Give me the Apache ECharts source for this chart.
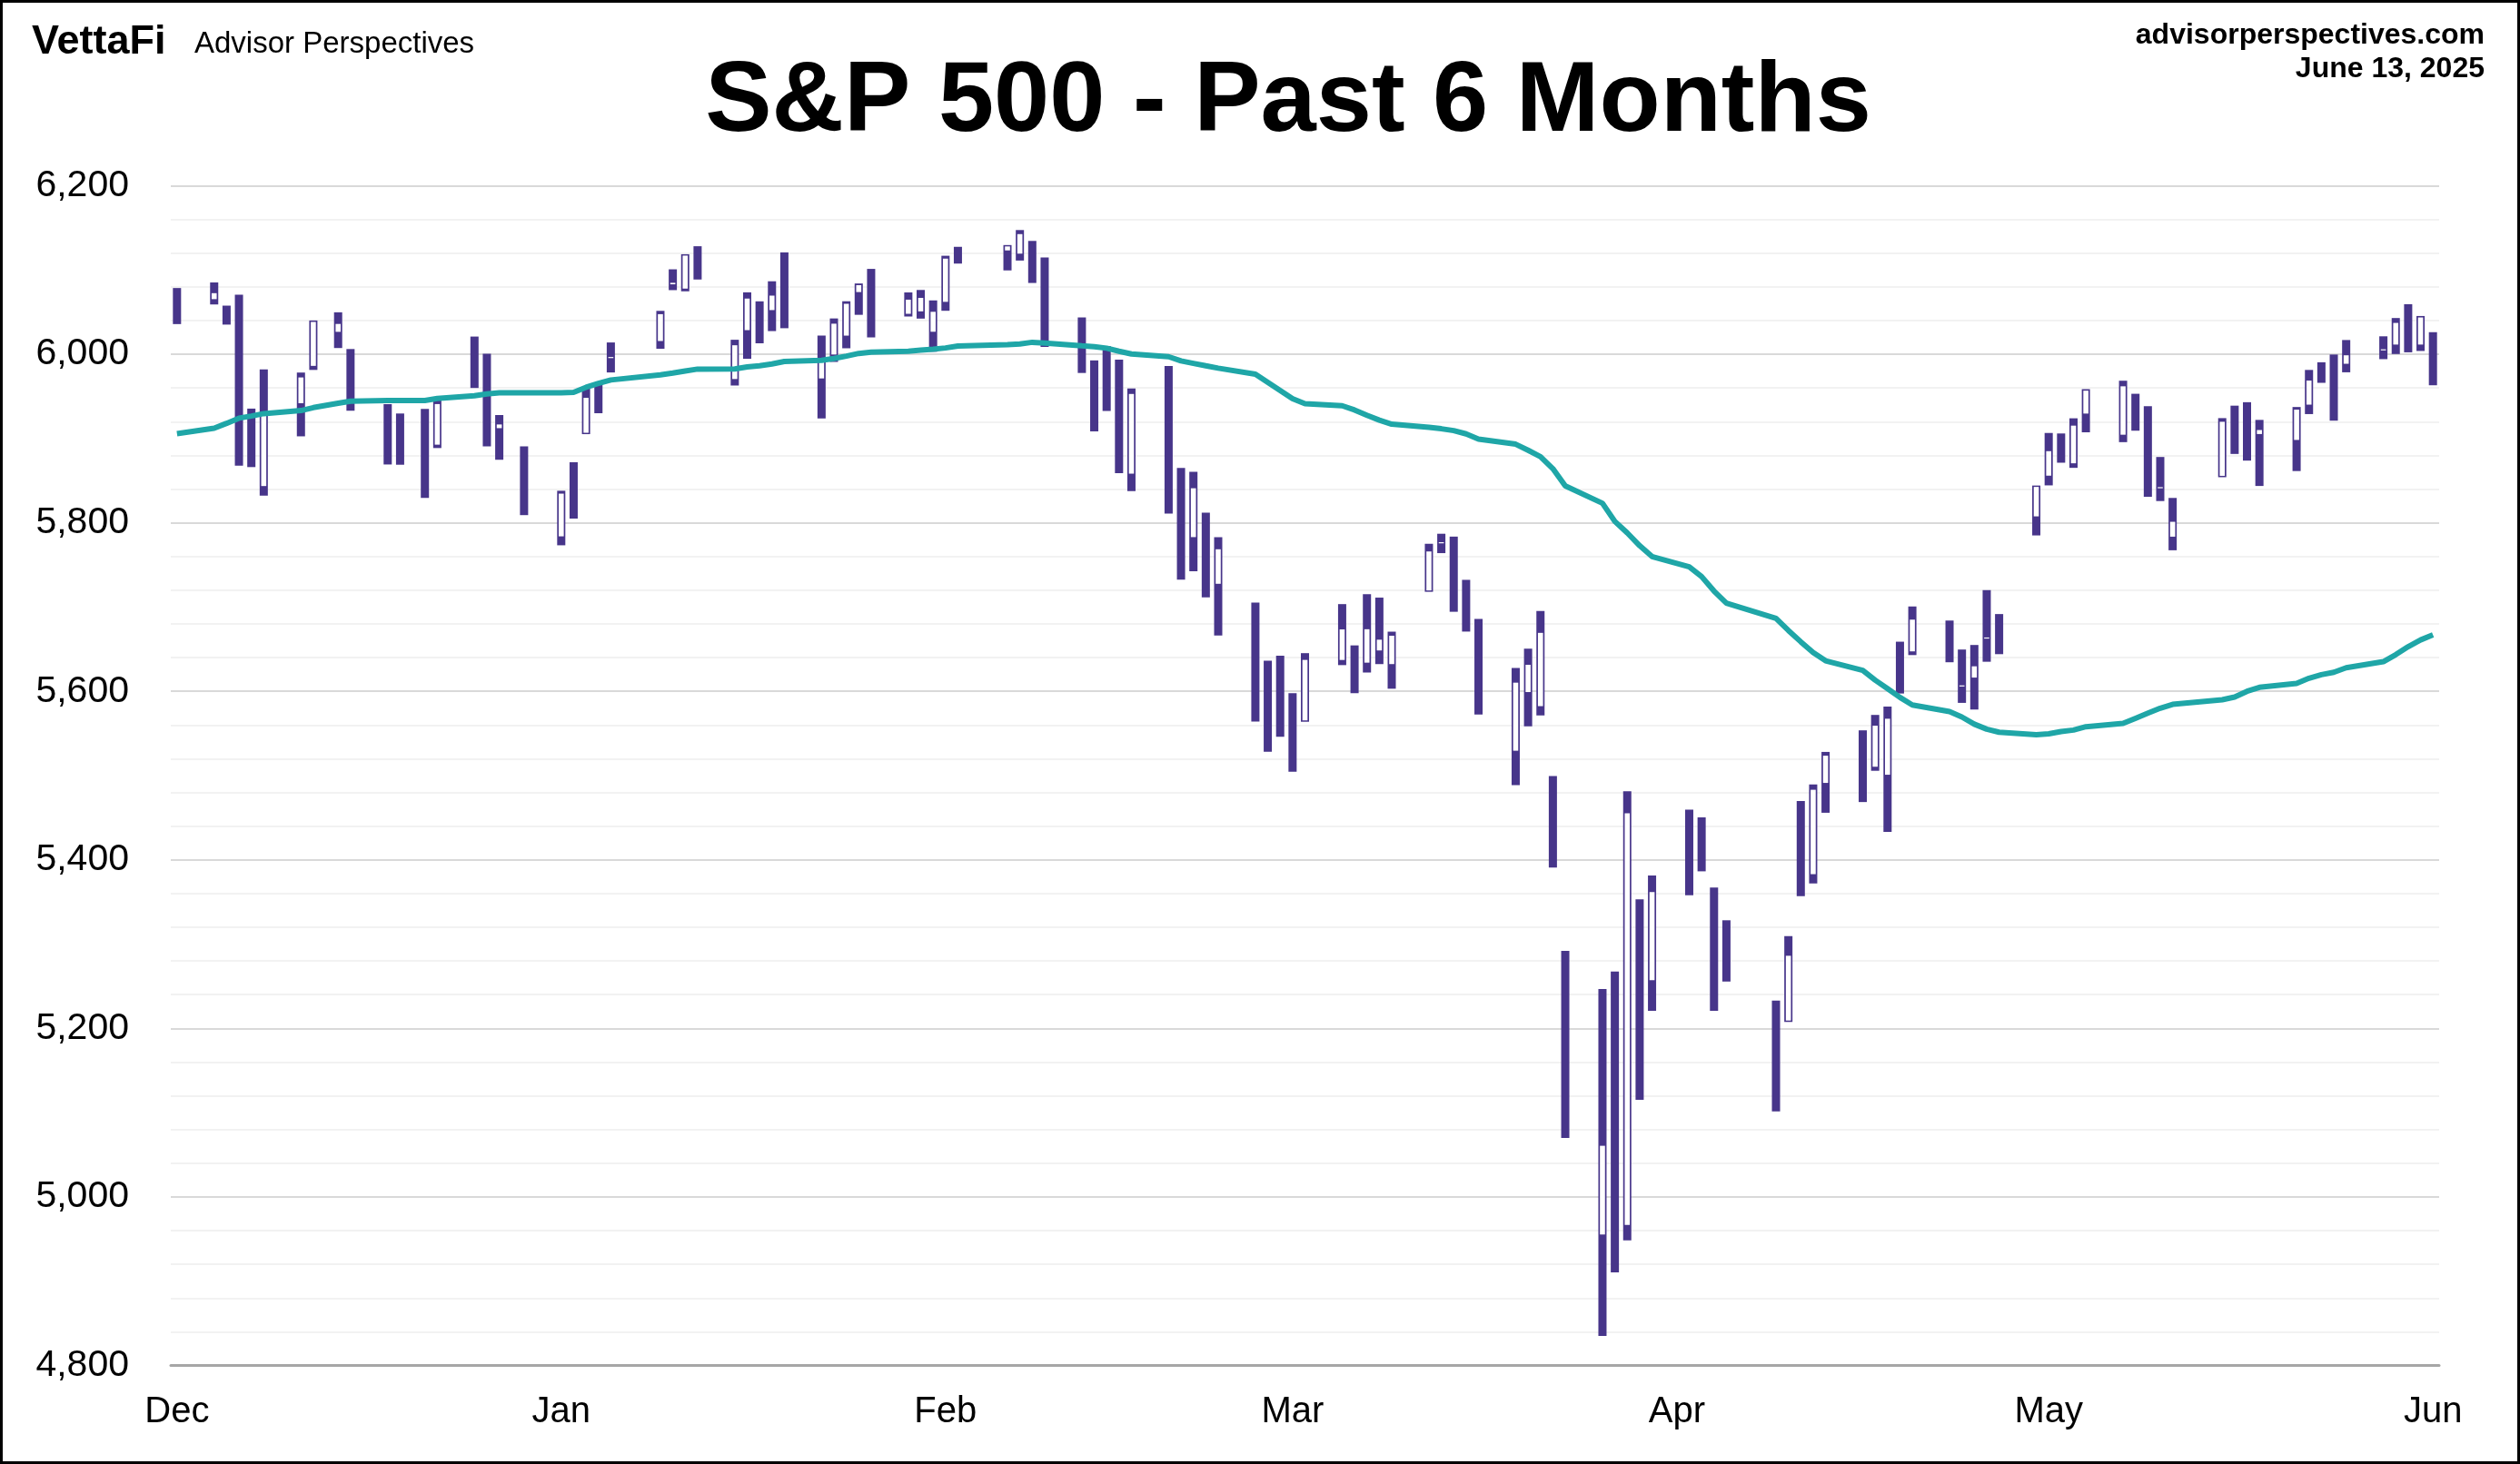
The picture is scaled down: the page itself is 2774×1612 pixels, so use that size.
<!DOCTYPE html>
<html>
<head>
<meta charset="utf-8">
<title>S&amp;P 500 - Past 6 Months</title>
<script src="https://cdn.jsdelivr.net/npm/echarts@6/dist/echarts.min.js"></script>
<style>
  html, body { margin: 0; padding: 0; background: #fff; }
  #chart { width: 2774px; height: 1612px; }
</style>
</head>
<body>
<div id="chart"></div>
<script>
  // trading days, Dec 13 2024 -> Jun 13 2025
  var tradeDates = [
    '2024-12-13','2024-12-16','2024-12-17','2024-12-18','2024-12-19','2024-12-20','2024-12-23','2024-12-24','2024-12-26','2024-12-27','2024-12-30','2024-12-31',
    '2025-01-02','2025-01-03','2025-01-06','2025-01-07','2025-01-08','2025-01-10','2025-01-13','2025-01-14','2025-01-15','2025-01-16','2025-01-17','2025-01-21','2025-01-22','2025-01-23','2025-01-24','2025-01-27','2025-01-28','2025-01-29','2025-01-30','2025-01-31',
    '2025-02-03','2025-02-04','2025-02-05','2025-02-06','2025-02-07','2025-02-10','2025-02-11','2025-02-12','2025-02-13','2025-02-14','2025-02-18','2025-02-19','2025-02-20','2025-02-21','2025-02-24','2025-02-25','2025-02-26','2025-02-27','2025-02-28',
    '2025-03-03','2025-03-04','2025-03-05','2025-03-06','2025-03-07','2025-03-10','2025-03-11','2025-03-12','2025-03-13','2025-03-14','2025-03-17','2025-03-18','2025-03-19','2025-03-20','2025-03-21','2025-03-24','2025-03-25','2025-03-26','2025-03-27','2025-03-28','2025-03-31',
    '2025-04-01','2025-04-02','2025-04-03','2025-04-04','2025-04-07','2025-04-08','2025-04-09','2025-04-10','2025-04-11','2025-04-14','2025-04-15','2025-04-16','2025-04-17','2025-04-21','2025-04-22','2025-04-23','2025-04-24','2025-04-25','2025-04-28','2025-04-29','2025-04-30',
    '2025-05-01','2025-05-02','2025-05-05','2025-05-06','2025-05-07','2025-05-08','2025-05-09','2025-05-12','2025-05-13','2025-05-14','2025-05-15','2025-05-16','2025-05-19','2025-05-20','2025-05-21','2025-05-22','2025-05-23','2025-05-27','2025-05-28','2025-05-29','2025-05-30',
    '2025-06-02','2025-06-03','2025-06-04','2025-06-05','2025-06-06','2025-06-09','2025-06-10','2025-06-11','2025-06-12','2025-06-13'
  ];

  var opens = [
    6068.2,6063.8,6052.6,6047.7,5912.7,5842.0,5940.3,5984.6,6025.0,6006.2,5920.7,5919.7,
    5903.3,5891.1,5982.8,5993.3,5910.7,5890.7,5782.3,5859.3,5905.2,5963.6,5995.5,6014.1,6081.4,6076.3,6121.4,5969.0,6027.0,6057.7,6050.8,6096.8,
    5969.7,5998.1,6020.5,6072.2,6083.1,6046.4,6049.3,6025.1,6060.6,6115.5,6121.6,6117.8,6134.5,6114.1,6026.7,5982.7,5970.9,5981.9,5856.7,
    5968.3,5812.0,5781.4,5785.9,5726.0,5705.4,5603.7,5624.8,5594.5,5563.9,5635.6,5654.5,5632.4,5646.9,5630.7,5718.1,5775.9,5771.7,5695.6,5679.9,5527.9,
    5597.5,5580.8,5492.7,5292.1,4953.8,5193.6,4965.3,5353.2,5255.6,5442.0,5412.0,5335.8,5305.5,5232.9,5207.7,5395.9,5381.4,5489.7,5529.2,5508.9,5499.4,
    5625.1,5645.8,5655.3,5605.9,5614.7,5662.6,5679.7,5806.0,5854.3,5893.0,5869.0,5928.0,5902.9,5944.7,5910.1,5841.3,5781.9,5854.1,5925.4,5939.9,5903.7,
    5896.7,5938.6,5978.9,5985.7,5987.1,6004.6,6009.9,6049.4,6009.9,6000.6
  ];
  var highs = [
    6078.6,6085.2,6057.7,6070.7,5935.5,5982.1,5978.3,6040.1,6049.8,6006.2,5940.8,5929.7,
    5935.1,5949.3,6021.0,6000.7,5927.9,5890.7,5838.0,5871.9,5960.6,5964.7,6014.0,6051.5,6100.8,6118.7,6128.2,6017.2,6073.5,6062.8,6086.6,6120.9,
    6022.1,6042.5,6062.9,6084.0,6101.3,6073.4,6076.3,6063.9,6116.9,6127.5,6129.6,6147.4,6134.5,6114.8,6043.7,5992.7,6009.8,5993.7,5959.4,
    5986.1,5865.1,5860.6,5812.1,5783.0,5705.4,5636.3,5642.2,5597.8,5645.3,5703.5,5654.5,5715.3,5711.2,5670.8,5775.1,5787.0,5783.6,5732.3,5685.9,5627.6,
    5650.6,5695.3,5499.5,5292.1,5246.6,5267.5,5481.3,5353.2,5381.5,5459.5,5450.4,5367.2,5328.3,5232.9,5309.6,5469.7,5489.4,5528.1,5553.7,5572.0,5581.8,
    5658.9,5700.7,5684.0,5649.6,5655.0,5720.1,5691.7,5844.2,5906.6,5906.0,5924.0,5958.6,5968.6,5953.1,5938.4,5878.1,5829.5,5924.2,5939.0,5943.1,5922.1,
    5937.4,5981.4,5990.5,5999.7,6016.9,6021.3,6043.0,6059.4,6045.4,6026.2
  ];
  var lows = [
    6035.8,6059.1,6035.2,5867.8,5866.1,5832.3,5902.6,5981.4,6007.4,5933.0,5869.2,5868.9,
    5829.5,5888.7,5960.0,5890.7,5874.8,5809.1,5773.3,5805.0,5905.2,5930.0,5978.4,6006.5,6076.1,6074.7,6088.7,5962.9,5994.6,6013.0,6027.5,6030.9,
    5923.9,5990.9,6007.1,6046.8,6020.0,6044.8,6042.3,6003.0,6051.6,6107.6,6099.5,6111.2,6084.6,6008.6,5977.8,5908.5,5932.7,5858.8,5837.7,
    5810.9,5732.6,5742.4,5711.6,5666.3,5564.0,5528.4,5546.1,5504.7,5563.9,5631.1,5597.8,5622.2,5632.3,5603.1,5718.1,5764.0,5694.4,5670.9,5572.4,5488.7,
    5558.5,5571.5,5390.8,5069.9,4835.0,4910.4,4948.4,5115.3,5220.8,5358.0,5386.4,5220.8,5255.6,5101.6,5207.7,5356.9,5372.0,5455.9,5468.6,5505.7,5433.2,
    5597.4,5643.0,5634.5,5586.3,5578.4,5635.1,5644.1,5785.0,5844.4,5871.3,5865.2,5907.4,5895.7,5909.3,5830.9,5825.8,5767.4,5854.1,5881.7,5873.8,5843.7,
    5861.4,5929.0,5966.1,5921.2,5978.6,5994.2,6000.3,6002.3,6003.9,5963.2
  ];
  var closes = [
    6051.1,6074.1,6050.6,5872.2,5867.1,5930.9,5974.1,6040.0,6037.6,5970.8,5906.9,5881.6,
    5868.6,5942.5,5975.4,5909.0,5918.3,5827.0,5836.2,5842.9,5949.9,5937.3,5996.7,6049.2,6086.4,6118.7,6101.2,6012.3,6067.7,6039.3,6071.2,6040.5,
    5994.6,6037.9,6061.5,6083.6,6026.0,6066.4,6068.5,6052.0,6115.1,6114.6,6129.6,6144.2,6117.5,6013.1,5983.3,5955.3,5956.1,5861.6,5954.5,
    5849.7,5778.2,5842.6,5738.5,5770.2,5614.6,5572.1,5599.3,5521.5,5638.9,5675.1,5614.7,5675.3,5662.9,5667.6,5767.6,5776.7,5712.2,5693.3,5580.9,5611.9,
    5633.1,5671.0,5396.5,5074.1,5062.3,4982.8,5456.9,5268.1,5363.4,5406.0,5396.6,5275.7,5282.7,5158.2,5287.8,5375.9,5484.8,5525.2,5528.8,5560.8,5569.1,
    5604.1,5686.7,5650.4,5606.9,5631.3,5663.9,5659.9,5844.2,5886.6,5892.6,5916.9,5958.4,5963.6,5940.5,5844.6,5842.0,5802.8,5921.5,5888.6,5912.2,5911.7,
    5935.9,5970.4,5970.8,5939.3,6000.4,6005.9,6038.8,6022.2,6045.3,5977.0
  ];
  // 50-day moving average
  var ma50 = [
    5905.8,5912.3,5918.0,5924.2,5926.7,5929.6,5933.2,5936.7,5941.8,5944.3,5945.0,5945.0,
    5945.2,5947.5,5950.8,5953.0,5954.2,5954.2,5954.4,5954.8,5960.8,5965.5,5969.5,5975.6,5977.7,5980.2,5982.4,5982.6,5984.9,5986.3,5988.5,5991.4,
    5992.8,5995.0,5997.8,6001.0,6002.5,6003.6,6005.0,6006.1,6007.5,6009.8,6011.5,6012.2,6014.2,6013.3,6010.0,6009.0,6007.2,6003.6,6000.4,
    5997.1,5992.1,5989.2,5986.3,5983.5,5976.3,5966.6,5956.9,5947.2,5941.4,5938.9,5933.9,5927.6,5921.8,5917.0,5913.4,5911.6,5909.4,5905.5,5899.4,5893.3,
    5886.1,5878.5,5864.2,5843.7,5823.2,5801.6,5788.0,5772.9,5759.9,5747.7,5736.2,5719.0,5704.6,5686.5,5672.2,5658.8,5646.0,5636.3,5624.8,5613.3,5603.2,
    5592.8,5583.8,5575.9,5569.5,5561.0,5555.1,5551.5,5548.5,5549.5,5552.2,5554.0,5558.0,5562.0,5568.0,5574.0,5580.0,5584.5,5590.0,5593.2,5600.0,5604.7,
    5609.4,5615.5,5619.8,5622.6,5628.0,5635.2,5643.5,5653.0,5661.0,5667.0
  ];

  var monthNames = ['Jan','Feb','Mar','Apr','May','Jun','Jul','Aug','Sep','Oct','Nov','Dec'];

  var candleColor = '#47358a';
  var maColor = '#1fa6a7';

  // every calendar day is a slot on the axis, like a date axis
  function buildCalendar(first, last) {
    var days = [];
    var d = new Date(first + 'T00:00:00Z');
    var end = new Date(last + 'T00:00:00Z');
    while (d <= end) {
      days.push(d.toISOString().slice(0, 10));
      d.setUTCDate(d.getUTCDate() + 1);
    }
    return days;
  }

  var calendarDays = buildCalendar(tradeDates[0], tradeDates[tradeDates.length - 1]);

  var candles = tradeDates.map(function (d, i) {
    return [d, opens[i], closes[i], lows[i], highs[i]];
  });

  var maByDay = {};
  tradeDates.forEach(function (d, i) { maByDay[d] = ma50[i]; });
  var maLine = calendarDays.map(function (d) {
    return maByDay[d] === undefined ? null : maByDay[d];
  });

  function renderCandle(params, api) {
    var idx = api.value(0);
    var o = api.value(1), c = api.value(2), l = api.value(3), h = api.value(4);
    var top = api.coord([idx, h]);
    var bot = api.coord([idx, l]);
    var w = 9;
    var x0 = top[0] - w / 2;
    var kids = [{
      type: 'rect',
      shape: { x: x0, y: top[1], width: w, height: bot[1] - top[1] },
      style: { fill: candleColor }
    }];
    if (c >= o) {
      var yc = api.coord([idx, c])[1];
      var yo = api.coord([idx, o])[1];
      var hgt = yo - yc - 3;
      kids.push({
        type: 'rect',
        shape: {
          x: x0 + 1.7,
          y: hgt > 1.2 ? yc + 1.5 : (yc + yo) / 2 - 0.6,
          width: w - 3.4,
          height: Math.max(hgt, 1.2)
        },
        style: { fill: '#fff' }
      });
    }
    return { type: 'group', children: kids };
  }

  var myChart = echarts.init(document.getElementById('chart'));

  var option = {
    animation: false,
    backgroundColor: '#fff',
    grid: {
      left: 188,
      right: 89,
      top: 204.5,
      bottom: 108.5
    },
    xAxis: {
      type: 'category',
      data: calendarDays,
      boundaryGap: true,
      axisLine: { lineStyle: { color: '#a6a6a6', width: 3 } },
      axisTick: { show: false },
      splitLine: { show: false },
      axisLabel: {
        interval: function (i, v) { return v.slice(8) === '13'; },
        formatter: function (v) { return monthNames[+v.slice(5, 7) - 1]; },
        color: '#000',
        fontSize: 40,
        fontFamily: 'Liberation Sans',
        margin: 31
      }
    },
    yAxis: {
      type: 'value',
      min: 4800,
      max: 6200,
      interval: 200,
      axisLine: { show: false },
      axisTick: { show: false },
      axisLabel: {
        color: '#000',
        fontSize: 41,
        fontFamily: 'Liberation Sans',
        margin: 46,
        formatter: function (v) { return v.toLocaleString('en-US'); }
      },
      splitLine: { lineStyle: { color: '#d9d9d9', width: 2 } },
      minorTick: { show: false, splitNumber: 5 },
      minorSplitLine: { show: true, lineStyle: { color: '#f2f2f2', width: 2 } }
    },
    series: [
      {
        name: 'S&P 500',
        type: 'custom',
        renderItem: renderCandle,
        encode: { x: 0, y: [1, 2, 3, 4] },
        data: candles,
        z: 2
      },
      {
        name: '50-day MA',
        type: 'line',
        data: maLine,
        connectNulls: true,
        showSymbol: false,
        symbol: 'none',
        lineStyle: { color: maColor, width: 6 },
        z: 3
      }
    ],
    graphic: [
      {
        type: 'rect', silent: true,
        shape: { x: 1.5, y: 1.5, width: 2771, height: 1609 },
        style: { fill: 'none', stroke: '#000', lineWidth: 3 }
      },
      {
        type: 'text', x: 1418, y: 114,
        style: {
          text: 'S&P 500 - Past 6 Months', fill: '#000',
          font: 'bold 110px "Liberation Sans"',
          align: 'center', verticalAlign: 'middle',
          textAlign: 'center', textVerticalAlign: 'middle'
        }
      },
      {
        type: 'text', x: 35, y: 47,
        style: {
          text: 'VettaFi', fill: '#000',
          font: 'bold 45px "Liberation Sans"',
          align: 'left', verticalAlign: 'middle',
          textAlign: 'left', textVerticalAlign: 'middle'
        }
      },
      {
        type: 'text', x: 214, y: 49,
        style: {
          text: 'Advisor Perspectives', fill: '#000',
          font: '33px "Liberation Sans"',
          align: 'left', verticalAlign: 'middle',
          textAlign: 'left', textVerticalAlign: 'middle'
        }
      },
      {
        type: 'text', x: 2735, y: 39,
        style: {
          text: 'advisorperspectives.com', fill: '#000',
          font: 'bold 32px "Liberation Sans"',
          align: 'right', verticalAlign: 'middle',
          textAlign: 'right', textVerticalAlign: 'middle'
        }
      },
      {
        type: 'text', x: 2735, y: 76,
        style: {
          text: 'June 13, 2025', fill: '#000',
          font: 'bold 32px "Liberation Sans"',
          align: 'right', verticalAlign: 'middle',
          textAlign: 'right', textVerticalAlign: 'middle'
        }
      }
    ]
  };

  myChart.setOption(option);
</script>
</body>
</html>
